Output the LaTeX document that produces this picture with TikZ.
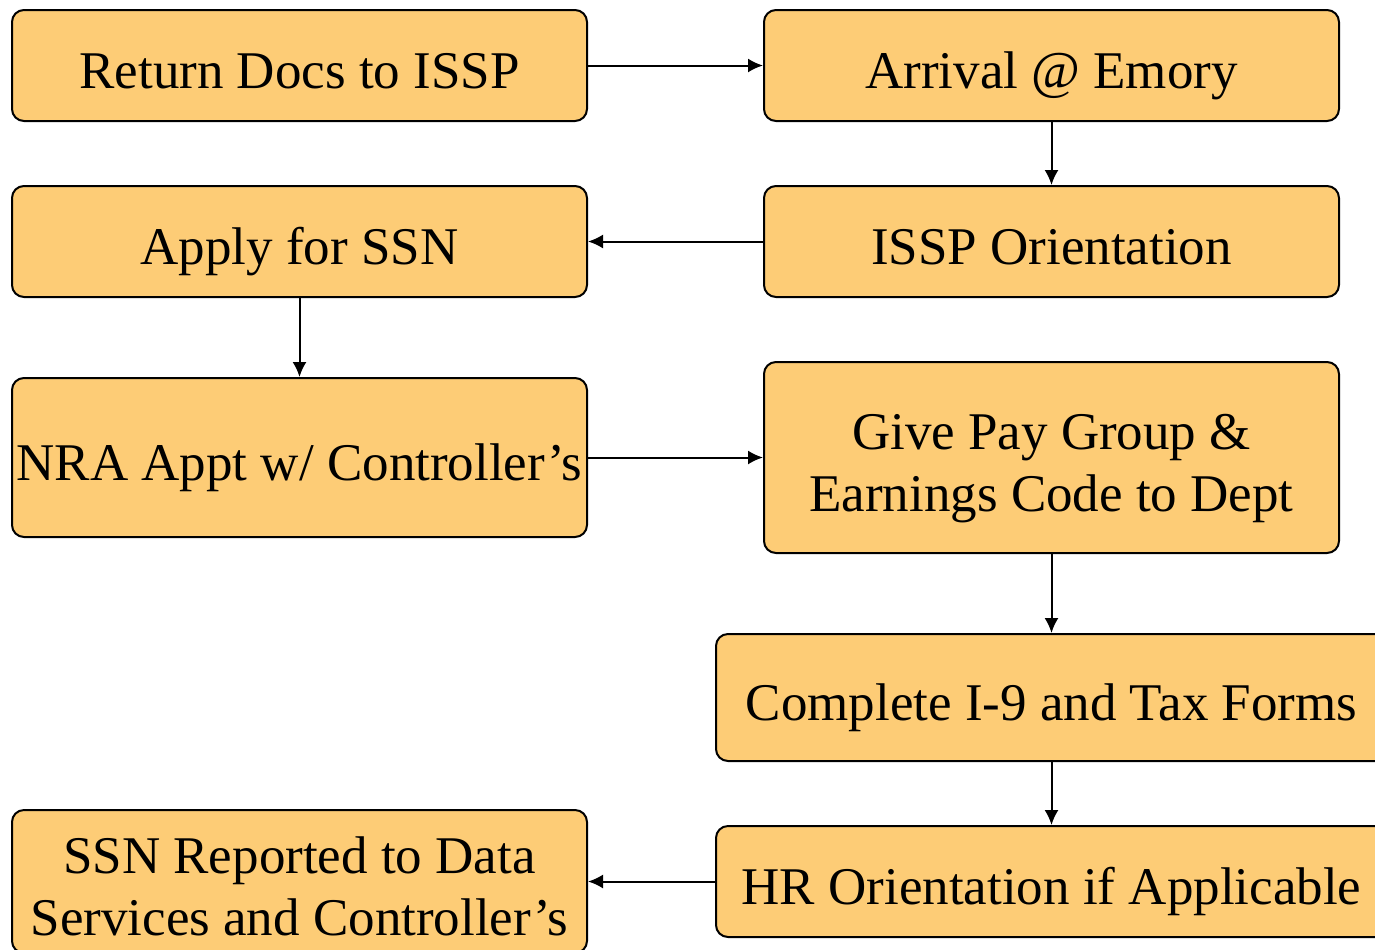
\documentclass[tikz,border=0pt]{standalone}
\usepackage{fontspec}
\setmainfont{Liberation Serif}
\usetikzlibrary{arrows.meta}
\definecolor{boxfill}{RGB}{253,204,118}
\newcommand{\htop}{\rule{0pt}{30pt}}
\newcommand{\dbot}{\rule[-7.5pt]{0pt}{0pt}}
\tikzset{
  box/.style={draw=black, line width=1pt, fill=boxfill, rounded corners=6pt,
    align=center, inner sep=0pt, font=\fontsize{26.5}{31}\selectfont},
  flow/.style={draw=black, line width=1pt, -{Latex[length=7.5pt,width=7pt]}}
}
\begin{document}
\begin{tikzpicture}[x=0.5pt,y=-0.5pt]
\useasboundingbox (0,0) rectangle (1375,949);
\clip (0,0) rectangle (1375,949);
\node[box, minimum width=287.5pt, minimum height=55.5pt] (ret) at (299.5,65.5) {\htop Return Docs to ISSP\dbot};
\node[box, minimum width=287.5pt, minimum height=55.5pt] (arr) at (1051.5,65.5) {\htop Arrival @ Emory\dbot};
\node[box, minimum width=287.5pt, minimum height=55.5pt] (app) at (299.5,241.5) {\htop Apply for SSN\dbot};
\node[box, minimum width=287.5pt, minimum height=55.5pt] (iss) at (1051.5,241.5) {\htop ISSP Orientation\dbot};
\node[box, minimum width=287.5pt, minimum height=79.5pt] (nra) at (299.5,457.5) {\htop NRA Appt w/ Controller’s\dbot};
\node[box, minimum width=287.5pt, minimum height=95.5pt] (pay) at (1051.5,457.5) {\htop Give Pay Group \&\\Earnings Code to Dept\dbot};
\node[box, minimum width=335.5pt, minimum height=63.5pt] (i9) at (1051.5,697.5) {\htop Complete I-9 and Tax Forms\dbot};
\node[box, minimum width=335.5pt, minimum height=55.5pt] (hr) at (1051.5,881.5) {\htop HR Orientation if Applicable\dbot};
\node[box, minimum width=287.5pt, minimum height=71.5pt] (ssn) at (299.5,881.5) {\htop SSN Reported to Data\\Services and Controller’s\dbot};
\draw[flow] (ret) -- (arr);
\draw[flow] (arr) -- (iss);
\draw[flow] (iss) -- (app);
\draw[flow] (app) -- (nra);
\draw[flow] (nra) -- (pay);
\draw[flow] (pay) -- (i9);
\draw[flow] (i9) -- (hr);
\draw[flow] (hr) -- (ssn);
\end{tikzpicture}
\end{document}
